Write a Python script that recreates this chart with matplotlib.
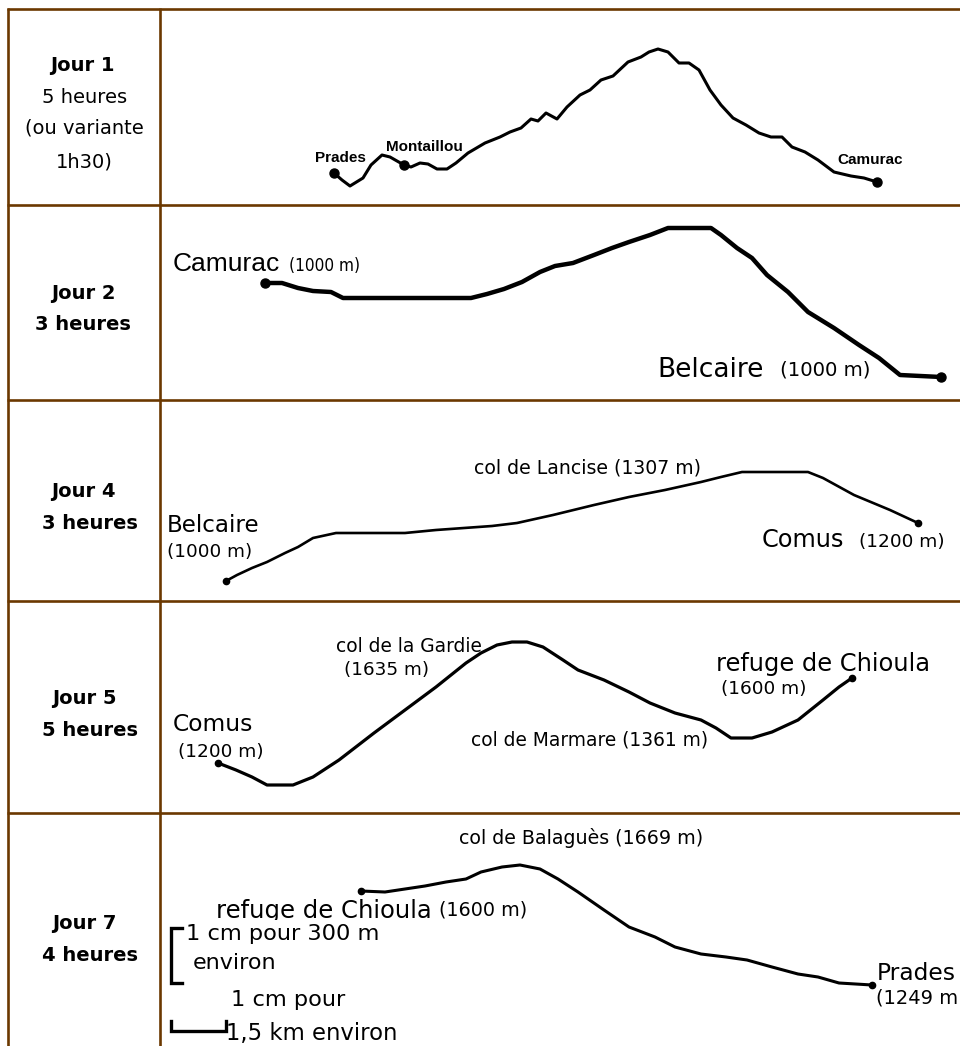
import matplotlib
matplotlib.use("Agg")
import matplotlib.pyplot as plt
from matplotlib.transforms import Bbox

# ---------------- data (in picture units) ----------------
day_titles = ["Jour 1", "Jour 2", "Jour 4", "Jour 5", "Jour 7"]
day_durations = ["5 heures", "3 heures", "3 heures", "5 heures", "4 heures"]
day1_extra = ["(ou variante", "1h30)"]

row_edges = [9, 205, 400, 601, 813]
col_edges = [8, 160]

# Day 1 : Prades -> Montaillou -> Camurac
day1_x = [334, 342, 350, 363, 371, 382, 390, 404, 411, 420, 428, 437, 447, 456, 468,
          485, 500, 510, 521, 531, 538, 546, 557, 567, 580, 590, 601, 613, 628, 641,
          649, 658, 668, 679, 689, 699, 710, 721, 733, 746, 759, 771, 782, 792, 805,
          818, 834, 851, 864, 877]
day1_y = [173, 180, 186, 178, 165, 155, 157, 165, 167, 163, 164, 169, 169, 163, 153,
          143, 137, 132, 128, 119, 121, 113, 119, 107, 95, 90, 80, 76, 62, 57,
          52, 49, 52, 63, 63, 70, 90, 105, 118, 125, 133, 137, 137, 147, 152,
          160, 172, 176, 178, 182]
day1_stops = [0, 7, 49]

# Day 2 : Camurac -> Belcaire
day2_x = [265, 282, 298, 313, 331, 343, 390, 438, 471, 487, 504, 522, 540, 555, 573,
          594, 612, 629, 650, 668, 711, 721, 737, 752, 767, 788, 808, 834, 859, 879,
          900, 941]
day2_y = [283, 283, 288, 291, 292, 298, 298, 298, 298, 294, 289, 282, 272, 266, 263,
          255, 248, 242, 235, 228, 228, 235, 248, 258, 275, 292, 312, 328, 345, 358,
          375, 377]
day2_stops = [0, 31]

# Day 4 : Belcaire -> col de Lancise -> Comus
day4_x = [226, 237, 252, 267, 285, 298, 313, 336, 405, 436, 492, 517, 553, 594, 629,
          665, 701, 721, 742, 808, 823, 854, 890, 918]
day4_y = [581, 575, 568, 562, 553, 547, 538, 533, 533, 530, 526, 523, 515, 505, 497,
          490, 482, 477, 472, 472, 478, 495, 510, 523]
day4_stops = [0, 23]

# Day 5 : Comus -> col de la Gardie -> col de Marmare -> refuge de Chioula
day5_x = [218, 236, 252, 267, 293, 313, 339, 374, 405, 436, 466, 481, 497, 512, 527,
          543, 563, 578, 604, 629, 650, 675, 701, 716, 731, 752, 772, 798, 823, 839,
          852]
day5_y = [763, 770, 777, 785, 785, 777, 760, 733, 710, 687, 663, 653, 645, 642, 642,
          647, 660, 670, 680, 692, 703, 713, 720, 728, 738, 738, 732, 720, 700, 687,
          678]
day5_stops = [0, 30]

# Day 7 : refuge de Chioula -> col de Balaguès -> Prades
day7_x = [361, 385, 405, 425, 446, 466, 481, 502, 520, 540, 558, 578, 604, 629, 655,
          675, 701, 726, 747, 772, 798, 818, 839, 872]
day7_y = [891, 892, 889, 886, 882, 879, 872, 867, 865, 869, 879, 892, 910, 927, 937,
          947, 954, 957, 960, 967, 974, 977, 983, 985]
day7_stops = [0, 23]

# scale bars (legend)
vscale_x = [182, 171, 171, 182]
vscale_y = [928, 928, 983, 983]
hscale_x = [171, 171, 226, 226]
hscale_y = [1021, 1031, 1031, 1021]

# ---------------- figure ----------------
W, H = 960, 1046
fig = plt.figure(figsize=(W / 100, H / 100), dpi=100)
ax = fig.add_axes([0, 0, 1, 1])
ax.set_xlim(0, W)
ax.set_ylim(H, 0)
ax.axis("off")

border = "#6b3800"
ax.hlines(row_edges, col_edges[0] - 1, W + 5, color=border, lw=1.9, zorder=1)
ax.vlines(col_edges, row_edges[0] - 1, H + 5, color=border, lw=1.9, zorder=1)

LEFT = "DejaVu Sans"

# left column
title_pos = [(82, 71), (83, 299), (83, 497), (84, 704), (84, 929)]
dur_pos = [(85, 103), (83, 330), (90, 529), (90, 736), (90, 961)]
for i, (t, d) in enumerate(zip(day_titles, day_durations)):
    ax.text(*title_pos[i], t, family=LEFT, fontsize=14, fontweight="bold",
            ha="center", va="baseline", color="black")
    ax.text(*dur_pos[i], d, family=LEFT, fontsize=14,
            fontweight="normal" if i == 0 else "bold",
            ha="center", va="baseline", color="black")
ax.text(84, 134, day1_extra[0], family=LEFT, fontsize=14, ha="center", va="baseline")
ax.text(84, 168, day1_extra[1], family=LEFT, fontsize=14, ha="center", va="baseline")


def profile(xs, ys, stops, lw, ms):
    ax.plot(xs, ys, color="black", lw=lw, solid_joinstyle="round",
            solid_capstyle="round", zorder=3)
    ax.plot([xs[i] for i in stops], [ys[i] for i in stops], "o", color="black",
            ms=ms, zorder=4)


profile(day1_x, day1_y, day1_stops, 2.2, 6.5)
profile(day2_x, day2_y, day2_stops, 3.2, 6.5)
profile(day4_x, day4_y, day4_stops, 1.9, 4.5)
profile(day5_x, day5_y, day5_stops, 2.3, 4.5)
profile(day7_x, day7_y, day7_stops, 2.2, 4.5)

# day 1 labels
A = "Liberation Sans"
for txt, x, y in [("Prades", 315, 162), ("Montaillou", 386, 151), ("Camurac", 837, 164)]:
    ax.text(x, y, txt, family=A, fontsize=11, fontweight="bold", va="baseline")

# day 2 labels
ax.text(173, 271, "Camurac", family=A, fontsize=19, va="baseline")
ax.text(289, 271, "(1000 m)", family=LEFT, fontsize=12.3, fontstretch="condensed",
        va="baseline")
ax.text(657, 377, "Belcaire", family=LEFT, fontsize=19, va="baseline")
ax.text(780, 376, "(1000 m)", family=LEFT, fontsize=14.2, va="baseline")

# day 4 labels
ax.text(474, 474, "col de Lancise (1307 m)", family=LEFT, fontsize=13.6, va="baseline")
ax.text(167, 532, "Belcaire", family=LEFT, fontsize=16.6, va="baseline")
ax.text(167, 557, "(1000 m)", family=LEFT, fontsize=13.2, va="baseline")
ax.text(762, 547, "Comus", family=LEFT, fontsize=17.3, va="baseline")
ax.text(859, 547, "(1200 m)", family=LEFT, fontsize=13.3, va="baseline")

# day 5 labels
ax.text(336, 652, "col de la Gardie", family=LEFT, fontsize=13.4, va="baseline")
ax.text(344, 675, "(1635 m)", family=LEFT, fontsize=13.2, va="baseline")
ax.text(716, 671, "refuge de Chioula", family=LEFT, fontsize=17.4, va="baseline")
ax.text(721, 694, "(1600 m)", family=LEFT, fontsize=13.3, va="baseline")
ax.text(471, 745, "col de Marmare (1361 m)", family=LEFT, fontsize=13.4, va="baseline")
ax.text(173, 731, "Comus", family=LEFT, fontsize=16.8, va="baseline")
ax.text(178, 757, "(1200 m)", family=LEFT, fontsize=13.3, va="baseline")

# day 7 labels
ax.text(459, 844, "col de Balaguès (1669 m)", family=LEFT, fontsize=13.7, va="baseline")
chioula = ax.text(216, 918, "refuge de Chioula", family=LEFT, fontsize=17.5,
                  va="baseline")
ax.text(439, 916, "(1600 m)", family=LEFT, fontsize=13.8, va="baseline")
ax.text(877, 980, "Prades", family=LEFT, fontsize=16.8, va="baseline")
ax.text(876, 1004, "(1249 m", family=LEFT, fontsize=14.0, va="baseline")

# clip the bottom of "refuge de Chioula" like in the source image
p = ax.transData.transform([[150, 800], [960, 919.5]])
chioula.set_clip_box(Bbox.from_extents(p[:, 0].min(), p[:, 1].min(),
                                       p[:, 0].max(), p[:, 1].max()))
chioula.set_clip_on(True)

# scale legend
ax.plot(vscale_x, vscale_y, color="black", lw=2.4, solid_joinstyle="miter")
ax.plot(hscale_x, hscale_y, color="black", lw=2.4, solid_joinstyle="miter")
ax.text(186, 940, "1 cm pour 300 m", family=LEFT, fontsize=16.2, va="baseline")
ax.text(193, 969, "environ", family=LEFT, fontsize=16, va="baseline")
ax.text(231, 1006, "1 cm pour", family=LEFT, fontsize=16.2, va="baseline")
ax.text(226, 1040, "1,5 km environ", family=LEFT, fontsize=16.4, va="baseline")

fig.savefig("out.png", dpi=100)
